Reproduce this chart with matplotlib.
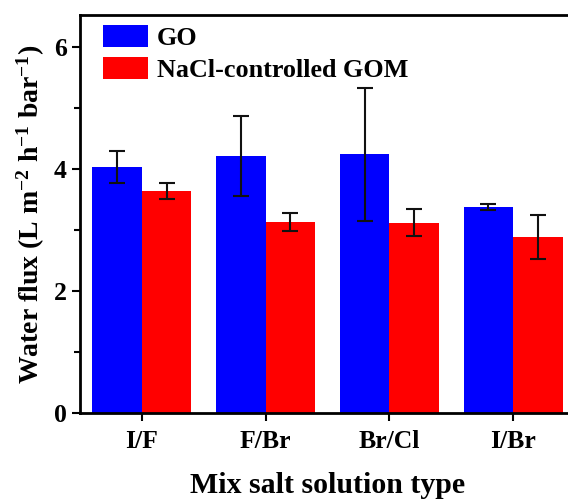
import matplotlib
matplotlib.use("Agg")
import matplotlib.pyplot as plt
import numpy as np
from matplotlib.ticker import MultipleLocator

plt.rcParams['font.family'] = ['Liberation Serif', 'DejaVu Serif']
plt.rcParams['font.weight'] = 'bold'
plt.rcParams['mathtext.fontset'] = 'custom'
plt.rcParams['mathtext.rm'] = 'Liberation Serif:bold'
plt.rcParams['mathtext.bf'] = 'Liberation Serif:bold'
plt.rcParams['mathtext.it'] = 'Liberation Serif:bold:italic'

categories = ['I/F', 'F/Br', 'Br/Cl', 'I/Br']
go_vals = [4.03, 4.21, 4.24, 3.38]
go_err = [0.27, 0.65, 1.09, 0.05]
gom_vals = [3.64, 3.13, 3.12, 2.89]
gom_err = [0.13, 0.15, 0.22, 0.36]
series_names = ['GO', 'NaCl-controlled GOM']

fig = plt.figure(figsize=(5.68, 5.0), dpi=100)
ax = fig.add_axes([80/568, 87/500, 495/568, 398/500])

x = np.arange(len(categories))
w = 0.40
ekw = dict(ecolor='#111111', elinewidth=1.5, capsize=6, capthick=1.5)
ax.bar(x - w/2, go_vals, w, color='#0000FF', yerr=go_err, error_kw=ekw, label=series_names[0])
ax.bar(x + w/2, gom_vals, w, color='#FF0000', yerr=gom_err, error_kw=ekw, label=series_names[1])

ax.set_xlim(-0.5, 3.5)
ax.set_ylim(0, 6.52)
ax.set_xticks(x)
ax.set_xticklabels(categories)
ax.yaxis.set_major_locator(MultipleLocator(2))
ax.yaxis.set_minor_locator(MultipleLocator(1))
ax.tick_params(axis='both', which='major', direction='out', length=6, width=1.5, labelsize=18.5)
ax.tick_params(axis='x', which='major', pad=6)
ax.tick_params(axis='y', which='minor', direction='out', length=4, width=1.5)
for s in ax.spines.values():
    s.set_linewidth(2)

ax.set_xlabel('Mix salt solution type', fontsize=21.5, fontweight='bold', labelpad=14)
ax.set_ylabel(r'Water flux (L m$^{-2}$ h$^{-1}$ bar$^{-1}$)', fontsize=20, fontweight='bold', labelpad=5)

leg = ax.legend(loc='upper left', bbox_to_anchor=(0.046, 0.975), frameon=False, fontsize=18.8,
                handlelength=1.73, handleheight=0.95, handletextpad=0.35, labelspacing=0.25,
                borderaxespad=0.0, borderpad=0.0)

fig.savefig('out.png', dpi=100)
